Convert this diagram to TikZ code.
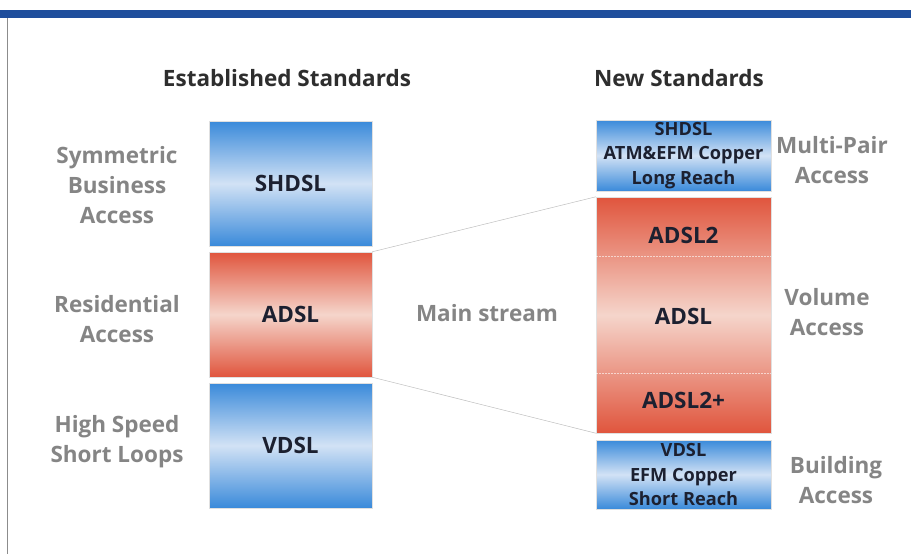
\documentclass[tikz,border=0pt]{standalone}
\usepackage{fontspec}
\setmainfont{Open Sans}
\usepackage{xcolor}
\definecolor{barblue}{HTML}{1F4E9C}
\definecolor{boxblue}{HTML}{3A8ADA}
\definecolor{paleblue}{HTML}{D2E2F5}
\definecolor{boxred}{HTML}{E0553D}
\definecolor{palered}{HTML}{F5D5CB}
\definecolor{labgray}{HTML}{858585}
\definecolor{headgray}{HTML}{2E2E2E}
\definecolor{boxtext}{HTML}{1C2030}

\begin{document}
\begin{tikzpicture}[x=1pt,y=-1pt,
  bigtext/.style={font=\bfseries\fontsize{22.5}{30}\selectfont},
  smalltext/.style={font=\bfseries\fontsize{18.2}{24.5}\selectfont},
  stdbox/.style={draw=black!12, inner sep=0pt, align=center, text=boxtext},
  bluebox/.style={stdbox, top color=boxblue, bottom color=boxblue, middle color=paleblue},
  redbox/.style={stdbox, top color=boxred, bottom color=boxred, middle color=palered},
  sidelabel/.style={bigtext, text=labgray, align=center},
  header/.style={bigtext, text=headgray}]

\useasboundingbox (0,0) rectangle (911,554);
% frame
\fill[barblue] (0,10) rectangle (911,18);
\draw[black!45, line width=0.8pt] (7,18) -- (7,554);

% headers
\node[header] (est) at (287,78) {Established Standards};
\node[header] (new) at (679,78) {New Standards};

% established column
\node[bluebox, bigtext, minimum width=163, minimum height=125] (shdsl) at (290.5,183.5) {SHDSL};
\node[redbox, bigtext, minimum width=163, minimum height=125] (adsl) at (290.5,314.5) {ADSL};
\node[bluebox, bigtext, minimum width=163, minimum height=125] (vdsl) at (290.5,445.5) {VDSL};

\foreach \y/\name/\txt in {185/symm/{Symmetric\\Business\\Access},319/resi/{Residential\\Access},442/speed/{High Speed\\Short Loops}}{
  \node[sidelabel] (\name) at (117,\y) {\txt};
}

% new column
\node[bluebox, smalltext, minimum width=175, minimum height=71] (multi) at (683.5,155.5) {SHDSL\\ATM\&EFM Copper\\Long Reach};
\node[redbox, minimum width=175, minimum height=236] (volume) at (683.5,315) {};
\node[bluebox, smalltext, minimum width=175, minimum height=69] (build) at (683.5,474.5) {VDSL\\EFM Copper\\Short Reach};

\draw[white, densely dotted, line width=0.5pt, opacity=0.6] ([yshift=-59]volume.north west) -- ([yshift=-59]volume.north east);
\draw[white, densely dotted, line width=0.5pt, opacity=0.6] ([yshift=60]volume.south west) -- ([yshift=60]volume.south east);

\foreach \y/\name/\txt in {235/adsltwo/ADSL2,316/adslmid/ADSL,400/adslplus/ADSL2+}{
  \node[bigtext, text=boxtext] (\name) at (683.5,\y) {\txt};
}

\foreach \x/\y/\name/\txt in {832/160/multilab/{Multi-Pair\\Access},827/312/vollab/{Volume\\Access},836/480/buildlab/{Building\\Access}}{
  \node[sidelabel] (\name) at (\x,\y) {\txt};
}

% main stream
\draw[black!25, line width=0.5pt] (adsl.north east) -- (volume.north west);
\draw[black!25, line width=0.5pt] (adsl.south east) -- (volume.south west);
\node[sidelabel] (main) at (487,313) {Main stream};

\end{tikzpicture}
\end{document}
